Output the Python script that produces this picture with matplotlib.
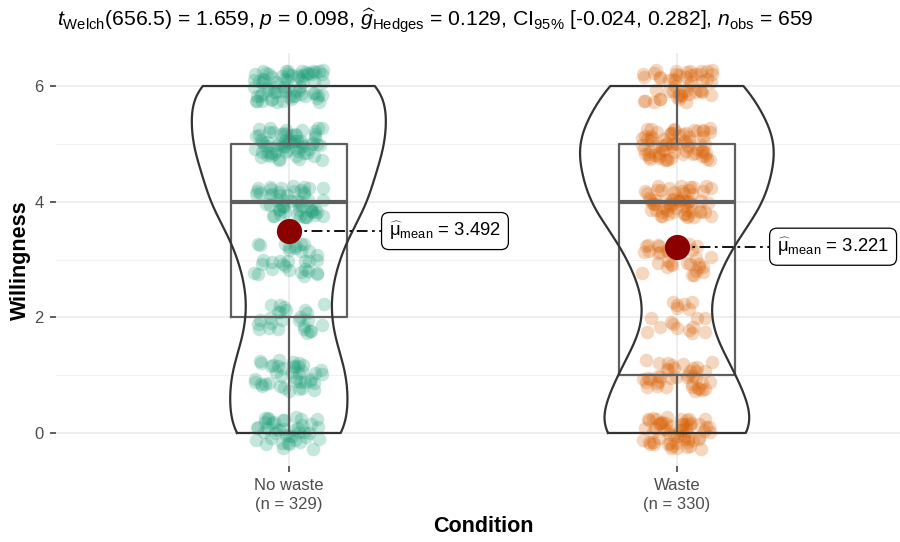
import numpy as np
import matplotlib.pyplot as plt

plt.rcParams['font.family'] = ['Liberation Sans', 'DejaVu Sans']
plt.rcParams['mathtext.fontset'] = 'custom'
plt.rcParams['mathtext.rm'] = 'Liberation Sans'
plt.rcParams['mathtext.it'] = 'Liberation Sans:italic'
plt.rcParams['mathtext.bf'] = 'Liberation Sans:bold'

# data: responses 0..6, counts per response level
conditions = ['No waste', 'Waste']
n_obs = [329, 330]
levels = [0, 1, 2, 3, 4, 5, 6]
counts_no_waste = [42, 40, 26, 32, 54, 65, 70]
counts_waste = [60, 40, 18, 31, 61, 70, 50]
means = [3.492, 3.221]
colors = ['#1B9E77', '#D95F02']
title = (r'$t_{\mathrm{Welch}}$(656.5) = 1.659, $p$ = 0.098, '
         r'$\widehat{g}_{\mathrm{Hedges}}$ = 0.129, CI$_{95\%}$ [-0.024, 0.282], '
         r'$n_{\mathrm{obs}}$ = 659')

groups = [np.repeat(levels, counts_no_waste).astype(float),
          np.repeat(levels, counts_waste).astype(float)]


def bw_nrd0(x):
    q75, q25 = np.percentile(x, [75, 25])
    lo = min(np.std(x, ddof=1), (q75 - q25) / 1.34)
    return 0.9 * lo * len(x) ** -0.2


def kde(x, grid):
    bw = bw_nrd0(x)
    z = (grid[:, None] - x[None, :]) / bw
    return np.exp(-0.5 * z ** 2).sum(axis=1) / (len(x) * bw * np.sqrt(2 * np.pi))


fig = plt.figure(figsize=(9, 5.42), dpi=100)
ax = fig.add_axes([56 / 900, 76 / 542, 844 / 900, 413 / 542])

# violins (trimmed, scale = area)
grids = [np.linspace(g.min(), g.max(), 512) for g in groups]
dens = [kde(g, gr) for g, gr in zip(groups, grids)]
dmax = max(d.max() for d in dens)

for i, g in enumerate(groups):
    xc = i + 1
    hw = 0.25 * dens[i] / dmax
    xs = np.concatenate([xc - hw, (xc + hw)[::-1], [xc - hw[0]]])
    ys = np.concatenate([grids[i], grids[i][::-1], [grids[i][0]]])
    ax.plot(xs, ys, color='#333333', lw=1.6, zorder=4, solid_joinstyle='round')

    # jittered points (deterministic jitter, no random numbers)
    k = np.arange(len(g)) + 1 + i * 17
    jx = (np.mod(k * k * 0.7548776662 + k * 0.31, 1) - 0.5) * 0.18
    jy = (np.mod(k * k * 0.5698402910 + k * 0.13, 1) - 0.5) * 0.56
    ax.scatter(xc + jx, g + jy, s=95, color=colors[i], alpha=0.25, lw=0, zorder=2)

    # boxplot
    q1, med, q3 = np.percentile(g, [25, 50, 75])
    iqr = q3 - q1
    lo = g[g >= q1 - 1.5 * iqr].min()
    hi = g[g <= q3 + 1.5 * iqr].max()
    bc = '#5E5E5E'
    ax.plot([xc - 0.15, xc + 0.15, xc + 0.15, xc - 0.15, xc - 0.15],
            [q1, q1, q3, q3, q1], color=bc, lw=1.6, zorder=3)
    ax.plot([xc - 0.15, xc + 0.15], [med, med], color=bc, lw=3, zorder=3,
            solid_capstyle='butt')
    ax.plot([xc, xc], [q3, hi], color=bc, lw=1.6, zorder=3)
    ax.plot([xc, xc], [lo, q1], color=bc, lw=1.6, zorder=3)

    # mean point + label
    ax.plot([xc, xc + 0.243], [means[i], means[i]], color='black', lw=1.3,
            ls=(0, (6, 2.5, 1.5, 2.5)), zorder=5)
    ax.scatter([xc], [means[i]], s=330, color='#8B0000', zorder=6, lw=0)
    ax.text(xc + 0.258, means[i], r'$\widehat{\mathrm{\mu}}_{\mathrm{mean}}$ = %.3f' % means[i],
            fontsize=13.3, va='center', ha='left', zorder=7,
            bbox=dict(boxstyle='round,pad=0.4,rounding_size=0.4', fc='white',
                      ec='black', lw=0.9))

ax.set_xlim(0.4, 2.575)
ax.set_ylim(-0.571, 6.571)
ax.set_yticks([0, 2, 4, 6])
ax.set_yticks([1, 3, 5], minor=True)
ax.set_xticks([1, 2])
ax.set_xticklabels([f'{c}\n(n = {n})' for c, n in zip(conditions, n_obs)],
                   linespacing=1.25)
ax.tick_params(axis='both', which='major', length=4, width=1.1, color='#333333',
               labelcolor='#4D4D4D', labelsize=12, pad=5)
ax.tick_params(axis='y', which='minor', length=0)
ax.grid(True, which='major', color='#EBEBEB', lw=1.2)
ax.grid(True, which='minor', axis='y', color='#F2F2F2', lw=0.8)
ax.set_axisbelow(True)
for s in ax.spines.values():
    s.set_visible(False)

fig.text(20 / 900, 1 - 260 / 542, 'Willingness', rotation=90, fontsize=15.5,
         fontweight='bold', ha='center', va='center')
fig.text(483 / 900, 1 - 526 / 542, 'Condition', fontsize=15.5, fontweight='bold',
         ha='center', va='center')
fig.text(57 / 900, 1 - 21 / 542, title, fontsize=15.2, ha='left', va='center')

fig.savefig('out.png', dpi=100)
